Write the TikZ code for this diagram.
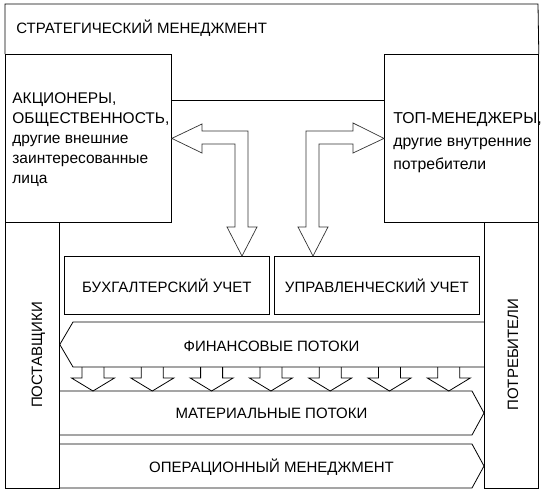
\documentclass[tikz,border=0pt]{standalone}
\usepackage{fontspec}
\setmainfont{Liberation Sans}
\usetikzlibrary{calc}
\begin{document}
\begin{tikzpicture}[x=1pt,y=-1pt,line width=0.8pt,line join=miter,
  font=\fontsize{15}{20}\selectfont,
  box/.style={draw,inner sep=0pt,anchor=north west},
  lbl/.style={inner sep=0pt},
  blockarrow/.style={draw=black!80,line width=0.7pt},
  flowshape/.style={draw}]
\useasboundingbox (0,0) rectangle (549,499);
% main boxes
\node[box,minimum width=166pt,minimum height=168pt] (sh) at (5,54) {};
\node[box,minimum width=154pt,minimum height=168pt] (tm) at (384,54) {};
\node[box,minimum width=54pt,minimum height=266pt] (sup) at (5,222) {};
\node[box,minimum width=54pt,minimum height=266pt] (con) at (484,222) {};
% strategic management frame
\draw (sh.north west) -- (5,4) -- (538,4) -- (tm.north east);
\draw (sh.east |- 0,100) -- (tm.west |- 0,100);
\node[lbl,anchor=base west] (strat) at (16,33) {СТРАТЕГИЧЕСКИЙ МЕНЕДЖМЕНТ};
% texts of the top boxes (base anchor = last line)
\node[lbl,anchor=base west,align=left,font=\fontsize{15.5}{20}\selectfont] (shtxt) at (12,183)
  {АКЦИОНЕРЫ,\\ОБЩЕСТВЕННОСТЬ,\\другие внешние\\заинтересованные\\лица};
\node[lbl,anchor=base west,align=left,font=\fontsize{15.8}{23}\selectfont] (tmtxt) at (393,169)
  {ТОП-МЕНЕДЖЕРЫ,\\другие внутренние\\потребители};
% side labels
\node[lbl,rotate=90,anchor=base] (suptxt) at (42,355) {ПОСТАВЩИКИ};
\node[lbl,rotate=90,anchor=base] (context) at (518,354.5) {ПОТРЕБИТЕЛИ};
% accounting boxes
\node[box,minimum width=205pt,minimum height=58pt] (buh) at (64,256) {БУХГАЛТЕРСКИЙ УЧЕТ};
\node[box,minimum width=205pt,minimum height=58pt] (upr) at (274,256) {УПРАВЛЕНЧЕСКИЙ УЧЕТ};
% double block arrows
\draw[blockarrow] (sh.east) -- (202,124) -- (202,131) -- (248,131) -- (248,227) -- (257,227)
  -- (buh.north -| 242,0) -- (227,227) -- (235,227) -- (235,144) -- (202,144) -- (202,153) -- cycle;
\draw[blockarrow] (tm.west) -- (353,123) -- (353,131) -- (306,131) -- (306,227) -- (298,227)
  -- (upr.north -| 313,0) -- (328,227) -- (319,227) -- (319,144) -- (353,144) -- (353,153) -- cycle;
% financial flows
\draw[flowshape] (con.west |- 0,322) -- (73,322) -- (sup.east |- 0,344.5) -- (73,367) -- (con.west |- 0,367);
\node[lbl] (fin) at (271.5,346) {ФИНАНСОВЫЕ ПОТОКИ};
% small arrows
\foreach \i in {0,...,6}{
  \pgfmathsetmacro\c{93+59.3*\i}
  \draw (\c-11,367) -- (\c-11,378) -- (\c-21.5,378) -- (\c,391) -- (\c+21.5,378) -- (\c+11,378) -- (\c+11,367);
}
% material flows
\draw[flowshape] (sup.east |- 0,391) -- (472,391) -- (con.west |- 0,413) -- (472,435) -- (sup.east |- 0,435);
\node[lbl] (mat) at (271.5,413.5) {МАТЕРИАЛЬНЫЕ ПОТОКИ};
% operational management
\draw[flowshape] (sup.east |- 0,444) -- (472,444) -- (con.west |- 0,466) -- (472,488) -- (sup.east |- 0,488);
\node[lbl] (op) at (271.5,467.5) {ОПЕРАЦИОННЫЙ МЕНЕДЖМЕНТ};
\end{tikzpicture}
\end{document}
